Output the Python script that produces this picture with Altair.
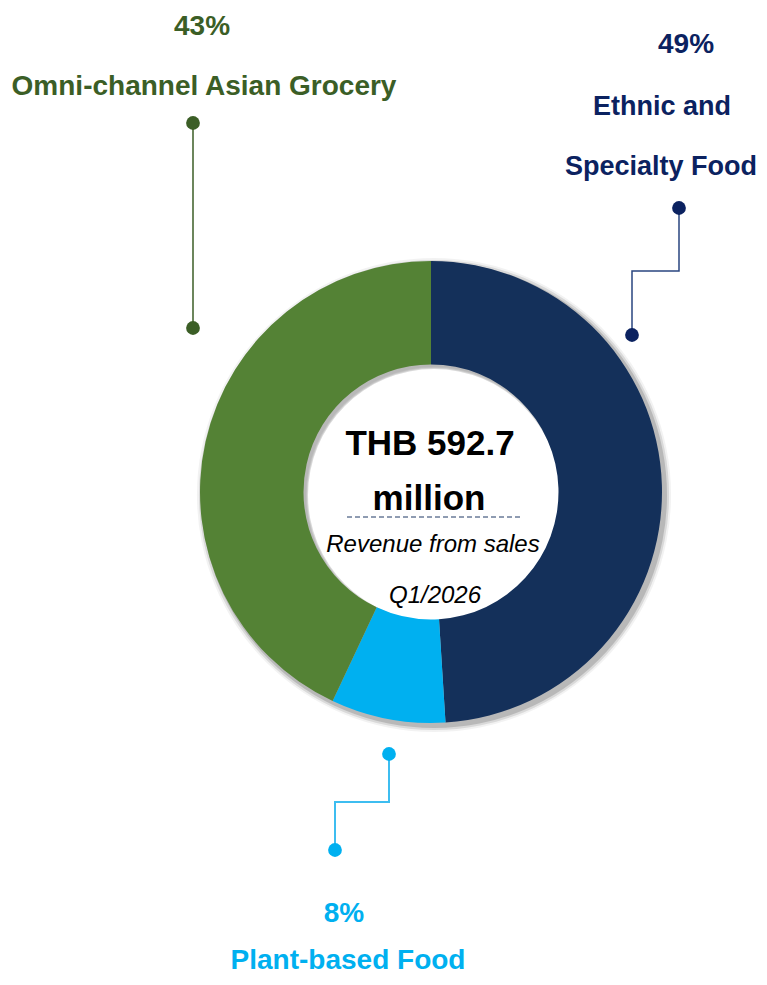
import altair as alt
import pandas as pd
import math

# ---- data ----
categories = ["Ethnic and Specialty Food", "Plant-based Food", "Omni-channel Asian Grocery"]
shares = [49, 8, 43]
slice_colors = ["#14305A", "#00B0F0", "#548235"]

pct_labels = ["49%", "8%", "43%"]
name_lines = [["Ethnic and", "Specialty Food"], ["Plant-based Food"], ["Omni-channel Asian Grocery"]]
text_colors = ["#0B2260", "#00B0F0", "#3B5E26"]
line_colors = ["#2A4680", "#3DBDF0", "#3B5E26"]
dot_colors = ["#0B2260", "#00B0F0", "#3B5E26"]

center_title = ["THB 592.7", "million"]
center_sub = ["Revenue from sales", "Q1/2026"]

# ---- layout (page pixel coordinates) ----
W, H, M = 767, 985, 8
CW, CH = W - 2 * M, H - 2 * M
CX, CY = 431, 492
R_OUT, R_IN = 231, 127.5

pct_pos = [(686, 53), (344, 922), (202, 35)]
name_pos = [[(662, 115), (661, 175)], [(348, 969)], [(204, 95)]]
label_sizes = [[28, 27, 27], [28, 28], [28, 28]]
leader_paths = [
    [(679, 208), (679, 271), (632, 271), (632, 335)],
    [(389, 754), (389, 802), (335, 802), (335, 850)],
    [(193, 123), (193, 328)],
]
leader_widths = [1.5, 2, 1.5]
title_pos = [(430, 455), (429, 510)]
sub_pos = [(433, 552), (435, 603)]
dash_pos = (347, 522, 517)

xs = alt.Scale(domain=[M, M + CW], range=[0, CW])
ys = alt.Scale(domain=[M, M + CH], range=[0, CH])

donut_df = pd.DataFrame({"cat": categories, "value": shares, "ord": list(range(len(categories)))})

shadow_df = pd.DataFrame({"ro": [233, 235, 237], "ri": [126, 127, 128], "op": [0.15, 0.10, 0.05]})

lab_rows = []
for i in range(3):
    lab_rows.append({"t": pct_labels[i], "x": pct_pos[i][0], "y": pct_pos[i][1], "c": text_colors[i], "fs": label_sizes[i][0]})
    for j, (line, (px, py)) in enumerate(zip(name_lines[i], name_pos[i])):
        lab_rows.append({"t": line, "x": px, "y": py, "c": text_colors[i], "fs": label_sizes[i][j + 1]})
lab_df = pd.DataFrame(lab_rows)

line_rows, dot_rows = [], []
for i, path in enumerate(leader_paths):
    for k, (px, py) in enumerate(path):
        line_rows.append({"s": categories[i], "k": k, "x": px, "y": py, "c": line_colors[i], "w": leader_widths[i]})
    for px, py in (path[0], path[-1]):
        dot_rows.append({"s": categories[i], "x": px, "y": py, "c": dot_colors[i]})
line_df = pd.DataFrame(line_rows)
dot_df = pd.DataFrame(dot_rows)

title_df = pd.DataFrame({"t": center_title, "x": [p[0] for p in title_pos], "y": [p[1] for p in title_pos]})
sub_df = pd.DataFrame({"t": center_sub, "x": [p[0] for p in sub_pos], "y": [p[1] for p in sub_pos]})
dash_df = pd.DataFrame({"x": [dash_pos[0]], "x2": [dash_pos[1]], "y": [dash_pos[2]]})

FONT = "Liberation Sans"

shadow = alt.Chart(shadow_df).mark_arc(theta=0, theta2=2 * math.pi, color="#000000").encode(
    x=alt.value(CX + 3 - M), y=alt.value(CY + 3 - M),
    radius=alt.Radius("ro:Q", scale=None),
    radius2=alt.Radius2("ri:Q"),
    opacity=alt.Opacity("op:Q", scale=None),
)

donut = alt.Chart(donut_df).mark_arc(innerRadius=R_IN, outerRadius=R_OUT).encode(
    x=alt.value(CX - M), y=alt.value(CY - M),
    theta=alt.Theta("value:Q", stack=True),
    order=alt.Order("ord:Q"),
    color=alt.Color("cat:N", scale=alt.Scale(domain=categories, range=slice_colors), legend=None),
)

leaders = alt.Chart(line_df).mark_line(interpolate="linear").encode(
    x=alt.X("x:Q", scale=xs, axis=None),
    y=alt.Y("y:Q", scale=ys, axis=None),
    detail="s:N",
    order="k:Q",
    color=alt.Color("c:N", scale=None),
    size=alt.Size("w:Q", scale=None),
)

dots = alt.Chart(dot_df).mark_circle(size=190, opacity=1).encode(
    x=alt.X("x:Q", scale=xs, axis=None),
    y=alt.Y("y:Q", scale=ys, axis=None),
    color=alt.Color("c:N", scale=None),
)

labels = alt.Chart(lab_df).mark_text(font=FONT, fontWeight="bold", align="center", baseline="alphabetic").encode(
    x=alt.X("x:Q", scale=xs, axis=None),
    y=alt.Y("y:Q", scale=ys, axis=None),
    text="t:N",
    color=alt.Color("c:N", scale=None),
    size=alt.Size("fs:Q", scale=None),
)

title = alt.Chart(title_df).mark_text(font=FONT, fontSize=35, fontWeight="bold", align="center", baseline="alphabetic", color="#000000").encode(
    x=alt.X("x:Q", scale=xs, axis=None),
    y=alt.Y("y:Q", scale=ys, axis=None),
    text="t:N",
)

sub = alt.Chart(sub_df).mark_text(font=FONT, fontSize=24, fontStyle="italic", align="center", baseline="alphabetic", color="#000000").encode(
    x=alt.X("x:Q", scale=xs, axis=None),
    y=alt.Y("y:Q", scale=ys, axis=None),
    text="t:N",
)

dash = alt.Chart(dash_df).mark_rule(color="#1F3864", strokeDash=[5, 3], strokeWidth=1).encode(
    x=alt.X("x:Q", scale=xs, axis=None),
    x2="x2:Q",
    y=alt.Y("y:Q", scale=ys, axis=None),
)

chart = alt.layer(shadow, donut, leaders, dots, labels, title, dash, sub).properties(
    width=CW, height=CH,
    autosize=alt.AutoSizeParams(type="none"),
    padding=0,
    background="#ffffff",
).configure_view(stroke=None)

chart.save("out.html", embed_options={"renderer": "svg", "actions": False})
